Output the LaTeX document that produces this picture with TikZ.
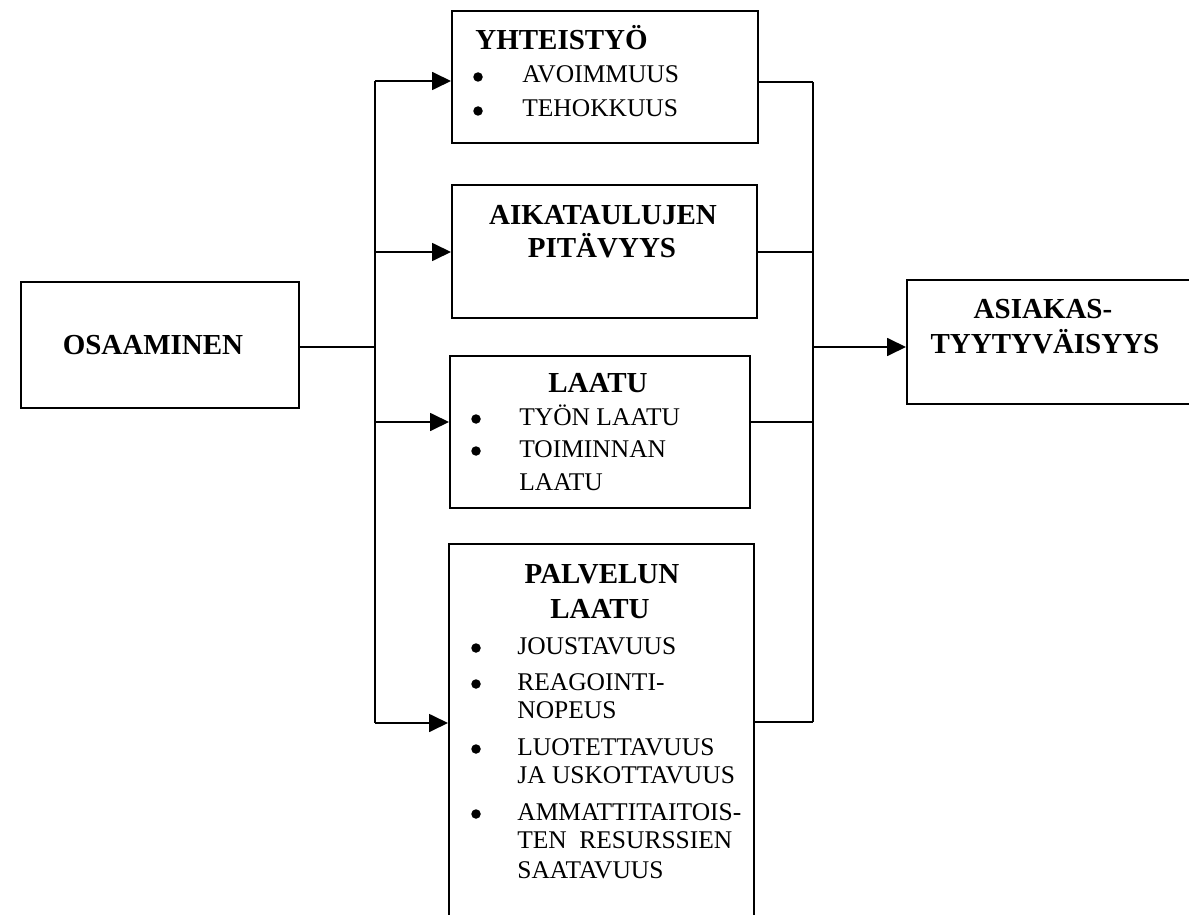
\documentclass[tikz,border=0pt]{standalone}
\usepackage{fontspec}
\setmainfont{Liberation Serif}
\usetikzlibrary{arrows.meta}

\tikzset{
  box/.style 2 args={draw, line width=1pt, anchor=north west, inner sep=0pt,
    minimum width=#1*0.02cm, minimum height=#2*0.02cm},
  head/.style={font=\fontsize{16.5}{19}\selectfont\bfseries, anchor=base, inner sep=0pt},
  itm/.style={font=\fontsize{14.5}{17}\selectfont, anchor=base west, inner sep=0pt},
  bul/.style={circle, fill, inner sep=0pt, minimum size=0.19cm},
  conn/.style={line width=1pt},
  arr/.style={conn, -{Triangle[length=0.38cm, width=0.36cm]}}
}

\begin{document}
\begin{tikzpicture}[x=0.02cm, y=-0.02cm]
  \clip (0,0) rectangle (1189,915);
  % boxes
  \node[box={278}{126}] (osa) at (20,281) {};
  \node[box={306}{132}] (yht) at (451,10) {};
  \node[box={305}{133}] (aik) at (451,184) {};
  \node[box={300}{152}] (laa) at (449,355) {};
  \node[box={305}{400}] (pal) at (448,543) {};
  \node[box={300}{124}] (asi) at (906,279) {};
  % headings
  \node[head] (osa-t) at (153,355) {OSAAMINEN};
  \node[head, anchor=base west] (yht-t) at (475,50) {YHTEISTYÖ};
  \node[head] (aik-t1) at (603,225) {AIKATAULUJEN};
  \node[head] (aik-t2) at (602,258) {PITÄVYYS};
  \node[head] (laa-t) at (598,392) {LAATU};
  \node[head] (pal-t1) at (602,583) {PALVELUN};
  \node[head] (pal-t2) at (600,618) {LAATU};
  \node[head] (asi-t1) at (1043,318) {ASIAKAS-};
  \node[head] (asi-t2) at (1045,353) {TYYTYVÄISYYS};
  % bullet lists
  \foreach \y/\t [count=\i] in {83/AVOIMMUUS, 117/TEHOKKUUS} {
    \node[bul] (yht-b\i) at (478,\y-6) {};
    \node[itm] (yht-i\i) at (522,\y) {\t};
  }
  \foreach \y [count=\i] in {425,457}
    \node[bul] (laa-b\i) at (476,\y-6) {};
  \foreach \y/\t [count=\i] in {425/TYÖN LAATU, 457/TOIMINNAN, 490/LAATU}
    \node[itm] (laa-i\i) at (519,\y) {\t};
  \foreach \y [count=\i] in {654,690,755,820}
    \node[bul] (pal-b\i) at (476,\y-6) {};
  \foreach \y/\t [count=\i] in {654/JOUSTAVUUS, 690/REAGOINTI-, 718/NOPEUS,
      755/LUOTETTAVUUS, 783/JA USKOTTAVUUS, 820/AMMATTITAITOIS-,
      848/{\makebox[4.3cm][s]{TEN RESURSSIEN}}, 878/SAATAVUUS}
    \node[itm] (pal-i\i) at (517,\y) {\t};
  % connectors
  \coordinate (split) at (375,347);
  \coordinate (join) at (813,347);
  \draw[conn] (osa.east |- split) -- (split);
  \foreach \n/\a/\b in {yht/81/82, aik/252/252, laa/422/422, pal/723/722} {
    \coordinate (in-\n) at (375,\a);
    \coordinate (out-\n) at (813,\b);
    \draw[arr] (in-\n) -- (in-\n -| \n.west);
    \draw[conn] (\n.east |- out-\n) -- (out-\n);
  }
  \draw[conn] (in-yht) -- (in-pal);
  \draw[conn] (out-yht) -- (out-pal);
  \draw[arr] (join) -- (join -| asi.west);
\end{tikzpicture}
\end{document}
